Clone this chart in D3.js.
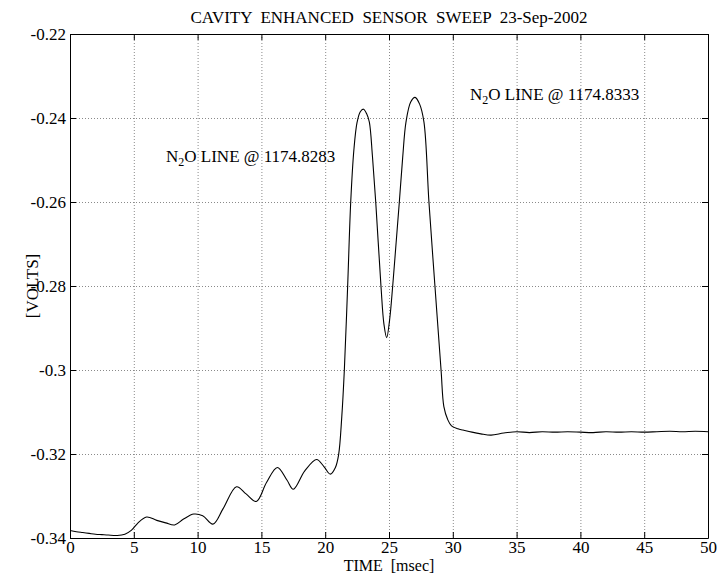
<!DOCTYPE html>
<html>
<head>
<meta charset="utf-8">
<script src="https://cdn.jsdelivr.net/npm/d3@7"></script>
<style>
  body { margin: 0; background: #fff; }
  text { font-family: "Liberation Serif", "Times New Roman", serif; font-size: 17px; fill: #000; }
</style>
</head>
<body>
<svg id="viz" width="717" height="574"></svg>
<script>
// sweep trace, time in msec and detector output in volts
var timeMs = [0, 0.5, 1, 1.5, 2, 2.5, 3, 3.7, 4.3, 4.8, 5.3, 6.0, 6.8, 7.5, 8.2, 8.9, 9.7, 10.4, 11.2, 12.0,
    13.05, 13.8, 14.6, 15.4, 16.25, 17.0, 17.5, 18.4, 19.33, 19.9, 20.4, 20.8, 21.05, 21.3, 21.5, 21.76,
    22.0, 22.25, 22.5, 22.75, 23.0, 23.25, 23.46, 23.7, 23.96, 24.37, 24.6, 24.82, 25.05, 25.29, 25.55,
    25.81, 26.07, 26.33, 26.7, 27.04, 27.4, 27.74, 28.13, 28.6, 29.08, 29.3, 29.6, 29.9, 30.4, 30.8, 31.5,
    32.2, 33.0, 34.0, 35, 36, 37, 38, 39, 40, 41, 42, 43, 44, 45, 46, 47, 48, 49, 50]
var volts = [-0.3382, -0.3385, -0.3387, -0.3389, -0.3391, -0.3392, -0.3393, -0.3394, -0.3391, -0.3382,
    -0.3365, -0.3350, -0.3358, -0.3364, -0.3369, -0.3355, -0.3343, -0.3347, -0.3367, -0.3330,
    -0.3278, -0.3295, -0.3313, -0.3268, -0.3232, -0.3262, -0.3284, -0.3240, -0.3213, -0.3230,
    -0.3248, -0.3232, -0.3202, -0.3111, -0.3000, -0.2800, -0.2600, -0.2475, -0.2410, -0.2385,
    -0.2379, -0.2390, -0.2410, -0.2490, -0.2600, -0.2800, -0.2890, -0.2923, -0.2880, -0.2800,
    -0.2700, -0.2600, -0.2495, -0.2410, -0.2362, -0.2351, -0.2367, -0.2410, -0.2600, -0.2800,
    -0.3000, -0.3087, -0.3118, -0.3133, -0.3140, -0.3143, -0.3148, -0.3152, -0.3155, -0.3150,
    -0.3147, -0.3149, -0.3147, -0.3148, -0.3147, -0.3148, -0.3149, -0.3147, -0.3148, -0.3147,
    -0.3148, -0.3147, -0.3146, -0.3147, -0.3146, -0.3147]

var xTicks = [0, 5, 10, 15, 20, 25, 30, 35, 40, 45, 50]
var yTicks = [-0.22, -0.24, -0.26, -0.28, -0.3, -0.32, -0.34]
var yTickLabels = ["-0.22", "-0.24", "-0.26", "-0.28", "-0.3", "-0.32", "-0.34"]

var margin = {top: 34, right: 9, bottom: 36, left: 70}
var W = 717, H = 574
var w = W - margin.left - margin.right
var h = H - margin.top - margin.bottom
var serif = "'Liberation Serif', 'Times New Roman', serif"

var svg = d3.select("#viz")
var g = svg.append("g")
    .attr("transform", "translate(" + margin.left + "," + margin.top + ")")

var x = d3.scaleLinear().domain([0, 50]).range([0, w])
var y = d3.scaleLinear().domain([-0.34, -0.22]).range([h, 0])

// dotted grid
g.append("g")
    .selectAll("line")
    .data(xTicks.slice(1, -1))
    .enter()
    .append("line")
    .attr("x1", function(d){ return x(d) + 0.5 })
    .attr("x2", function(d){ return x(d) + 0.5 })
    .attr("y1", 0)
    .attr("y2", h)
    .style("stroke", "#8a8a8a")
    .style("stroke-dasharray", "1,2")

g.append("g")
    .selectAll("line")
    .data(yTicks.slice(1, -1))
    .enter()
    .append("line")
    .attr("x1", 0)
    .attr("x2", w)
    .attr("y1", function(d){ return y(d) + 0.5 })
    .attr("y2", function(d){ return y(d) + 0.5 })
    .style("stroke", "#8a8a8a")
    .style("stroke-dasharray", "1,2")

// axes with inward ticks on all four sides
var xAxis = d3.axisBottom(x).tickValues(xTicks).tickSizeInner(-6).tickSizeOuter(0).tickPadding(3)
var yAxis = d3.axisLeft(y).tickValues(yTicks).tickSizeInner(-6).tickSizeOuter(0).tickPadding(4)
    .tickFormat(function(d, i){ return yTickLabels[i] })

g.append("g").attr("class", "axis")
    .attr("transform", "translate(0," + h + ")")
    .call(xAxis)
g.append("g").attr("class", "axis")
    .call(yAxis)
g.append("g").attr("class", "axis")
    .call(d3.axisTop(x).tickValues(xTicks).tickSizeInner(-6).tickSizeOuter(0).tickFormat(""))
g.append("g").attr("class", "axis")
    .attr("transform", "translate(" + w + ",0)")
    .call(d3.axisRight(y).tickValues(yTicks).tickSizeInner(-6).tickSizeOuter(0).tickFormat(""))

g.selectAll(".axis")
    .attr("font-family", serif)
    .attr("font-size", 17)
g.selectAll(".axis path, .axis line")
    .style("stroke", "#000")

// trace
var line = d3.line()
    .x(function(d){ return x(d[0]) })
    .y(function(d){ return y(d[1]) })
    .curve(d3.curveCatmullRom.alpha(0.5))

g.append("path")
    .datum(d3.zip(timeMs, volts))
    .attr("d", line)
    .style("fill", "none")
    .style("stroke", "#000")
    .style("stroke-width", 1.1)

// titles
svg.append("text")
    .attr("x", margin.left + w / 2)
    .attr("y", 22.5)
    .attr("text-anchor", "middle")
    .style("white-space", "pre")
    .text("CAVITY  ENHANCED  SENSOR  SWEEP  23-Sep-2002")

svg.append("text")
    .attr("x", margin.left + w / 2)
    .attr("y", 570.5)
    .attr("text-anchor", "middle")
    .style("white-space", "pre")
    .style("font-size", "16px")
    .text("TIME  [msec]")

svg.append("text")
    .attr("transform", "translate(38," + (margin.top + h / 2) + ") rotate(-90)")
    .attr("text-anchor", "middle")
    .text("[VOLTS]")

// line annotations
function annotate(px, py, wn){
    var t = svg.append("text").attr("x", px).attr("y", py)
    t.append("tspan").text("N")
    t.append("tspan").attr("dy", 4).style("font-size", "12px").text("2")
    t.append("tspan").attr("dy", -4).text("O LINE @ " + wn)
}
annotate(166, 162, "1174.8283")
annotate(470, 100, "1174.8333")
</script>
</body>
</html>
